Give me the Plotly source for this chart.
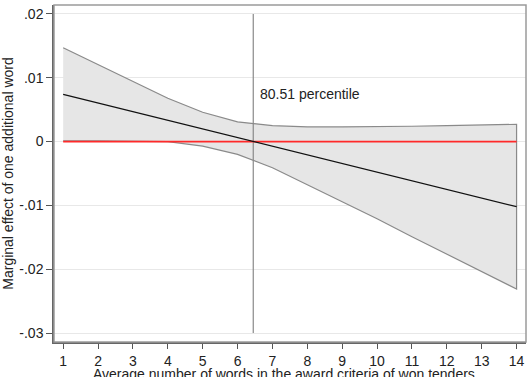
import plotly.graph_objects as go

x_words = [1, 2, 3, 4, 5, 6, 7, 8, 9, 10, 11, 12, 13, 14]
upper_ci = [0.0147, 0.0121, 0.0095, 0.0068, 0.0046, 0.0031, 0.0025, 0.0023, 0.0023, 0.0023, 0.0024, 0.0025, 0.0026, 0.0027]
lower_ci = [0.0001, 0.0001, 0.0001, 0.0000, -0.0007, -0.0020, -0.0041, -0.0067, -0.0094, -0.0121, -0.0149, -0.0176, -0.0204, -0.0231]
marg_eff = [0.00740, 0.00605, 0.00469, 0.00334, 0.00198, 0.00063, -0.00072, -0.00208, -0.00343, -0.00479, -0.00614, -0.00749, -0.00885, -0.01020]
zero_line = [0.0] * len(x_words)
pct_x = 6.45
pct_label = "80.51 percentile"
y_ticks = [0.02, 0.01, 0.0, -0.01, -0.02, -0.03]
y_tick_text = [".02", ".01", "0", "-.01", "-.02", "-.03"]
x_title = "Average number of words in the award criteria of won tenders"
y_title = "Marginal effect of one additional word"

FONT = "Liberation Sans, Arial, sans-serif"

fig = go.Figure()
fig.add_trace(go.Scatter(
    x=x_words + x_words[::-1],
    y=upper_ci + lower_ci[::-1],
    fill="toself", fillcolor="#e6e6e6",
    line=dict(color="#8a8a8a", width=1.2),
    mode="lines", hoverinfo="skip", showlegend=False))
fig.add_trace(go.Scatter(x=[pct_x, pct_x], y=[y_ticks[0], y_ticks[-1]], mode="lines",
                         line=dict(color="#8a8a8a", width=1.2), showlegend=False))
fig.add_trace(go.Scatter(x=x_words, y=zero_line, mode="lines",
                         line=dict(color="#ff2a2a", width=1.6), showlegend=False))
fig.add_trace(go.Scatter(x=x_words, y=marg_eff, mode="lines",
                         line=dict(color="#111111", width=1.3), showlegend=False))

fig.add_annotation(x=pct_x, y=0.0075, text=pct_label, showarrow=False,
                   xanchor="left", yanchor="middle", xshift=5,
                   font=dict(family=FONT, size=14, color="#222"))

fig.add_annotation(x=0.487, y=0, xref="paper", yref="paper", text=x_title,
                   showarrow=False, xanchor="center", yanchor="middle", yshift=-32,
                   font=dict(family=FONT, size=14, color="#222"))

fig.add_shape(type="rect", xref="x domain", yref="y domain", x0=0, x1=1, y0=0, y1=1,
              line=dict(color="#9a9a9a", width=1.5), layer="above")

fig.update_layout(
    width=530, height=377,
    margin=dict(l=54, r=4, t=5, b=35),
    paper_bgcolor="white", plot_bgcolor="white",
    font=dict(family=FONT, size=14, color="#222"),
    xaxis=dict(range=[0.737, 14.27], tickvals=x_words, ticks="outside", ticklen=5,
               tickcolor="#555", tickwidth=1.2, showgrid=False, zeroline=False,
               showline=True, linecolor="#666", linewidth=1.5, automargin=False,
               tickfont=dict(size=14)),
    yaxis=dict(range=[-0.0314, 0.0214], tickvals=y_ticks, ticktext=y_tick_text,
               ticks="outside", ticklen=6, tickcolor="#555", tickwidth=1.2,
               showgrid=True, gridcolor="#e8e8e8", gridwidth=1, zeroline=False,
               showline=True, linecolor="#666", linewidth=1.5, automargin=False,
               tickfont=dict(size=14),
               title=dict(text=y_title, font=dict(size=14), standoff=4)),
)

fig.write_html("out.html")
